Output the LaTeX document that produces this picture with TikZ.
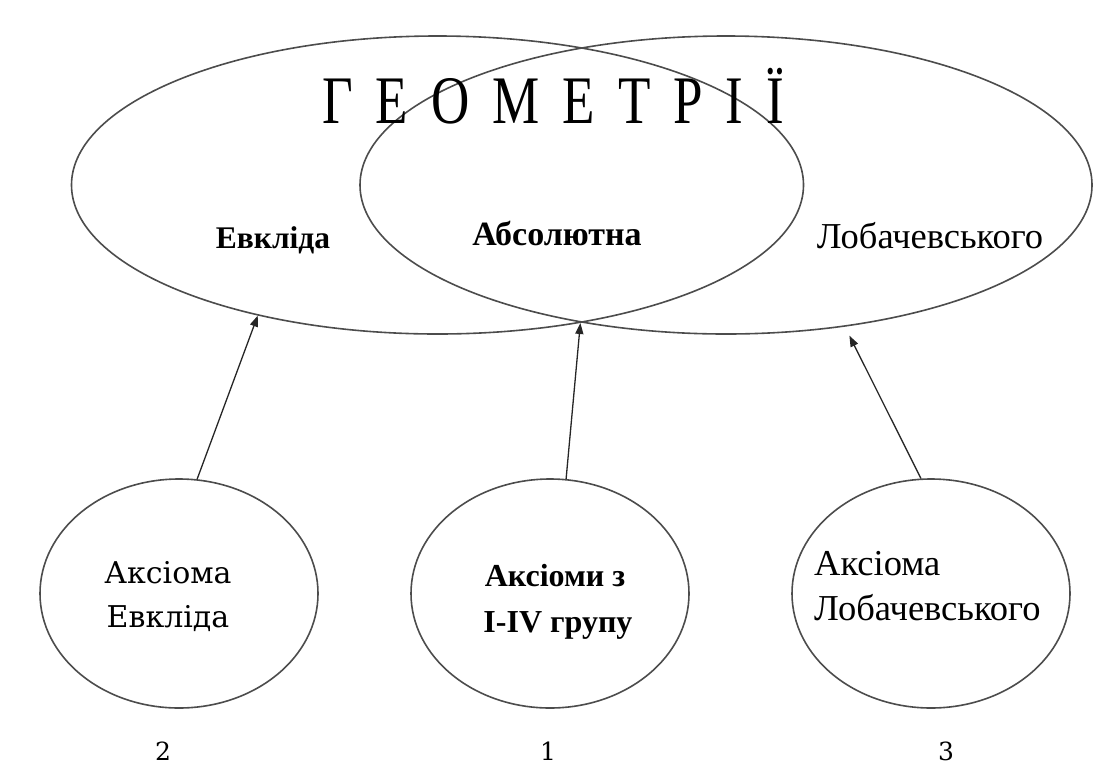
\documentclass[tikz,border=0pt]{standalone}
\usepackage{fontspec}
\setmainfont{Liberation Serif}
\newfontfamily\titlefont[FakeStretch=0.78]{Liberation Serif}
\newfontfamily\cambfont{DejaVu Serif}
\usetikzlibrary{shapes.geometric,arrows.meta}
\begin{document}
\begin{tikzpicture}[x=1pt,y=-1pt,
  outl/.style={line width=1.6pt,draw=black!70},
  bigell/.style={ellipse,outl,minimum width=732pt,minimum height=298pt,inner sep=0pt},
  smallell/.style={ellipse,outl,minimum width=278pt,minimum height=229pt,inner sep=0pt},
  arr/.style={line width=1.3pt,draw=black!85,-{Triangle[length=11pt,width=8pt]}},
  lbl/.style={inner sep=0pt,anchor=base},
  lblw/.style={inner sep=0pt,anchor=base west},
]
\useasboundingbox (0,0) rectangle (1102,764);
% big ellipses
\node[bigell] (euc) at (437.5,185) {};
\node[bigell] (lob) at (726,185) {};
% small ellipses
\node[smallell] (ax2) at (179,593.5) {};
\node[smallell] (ax1) at (550,593.5) {};
\node[smallell] (ax3) at (931,593.5) {};
% title
\node[inner sep=0pt,anchor=base west,font=\titlefont\fontsize{68}{68}\selectfont] (title) at (322,123)
  {Г\hspace{23pt}Е\hspace{23pt}О\hspace{23pt}М\hspace{23pt}Е\hspace{23pt}Т\hspace{23pt}Р\hspace{23pt}І\hspace{23pt}Ї};
% labels in big ellipses
\node[lbl,font=\bfseries\fontsize{31.5}{31.5}\selectfont] (leuc) at (273,248) {Евкліда};
\node[lbl,font=\bfseries\fontsize{34}{34}\selectfont] (labs) at (557,245) {Абсолютна};
\node[lbl,font=\fontsize{36.5}{36.5}\selectfont] (llob) at (930,248) {Лобачевського};
% labels in small ellipses
\node[lbl,font=\cambfont\fontsize{30}{30}\selectfont] (ax2a) at (168,583) {Аксіома};
\node[lbl,font=\cambfont\fontsize{30}{30}\selectfont] (ax2b) at (168,627) {Евкліда};
\node[lbl,font=\bfseries\fontsize{32}{32}\selectfont] (ax1a) at (555,586) {Аксіоми з};
\node[lbl,font=\bfseries\fontsize{32}{32}\selectfont] (ax1b) at (558,632) {I-IV групу};
\node[lblw,font=\fontsize{36.5}{36.5}\selectfont] (ax3a) at (814,575) {Аксіома};
\node[lblw,font=\fontsize{36.5}{36.5}\selectfont] (ax3b) at (814,620) {Лобачевського};
% numbers
\node[lbl,font=\cambfont\fontsize{25}{25}\selectfont] (n2) at (163,760) {2};
\node[lbl,font=\cambfont\fontsize{25}{25}\selectfont] (n1) at (548,760) {1};
\node[lbl,font=\cambfont\fontsize{25}{25}\selectfont] (n3) at (946,760) {3};
% arrows
\draw[arr] (ax2.81) -- (euc.216.3);
\draw[arr] (ax1.82) -- (euc.316.3);
\draw[arr,shorten >=10pt] (ax3.95.5) -- (lob.310.3);
\end{tikzpicture}
\end{document}
